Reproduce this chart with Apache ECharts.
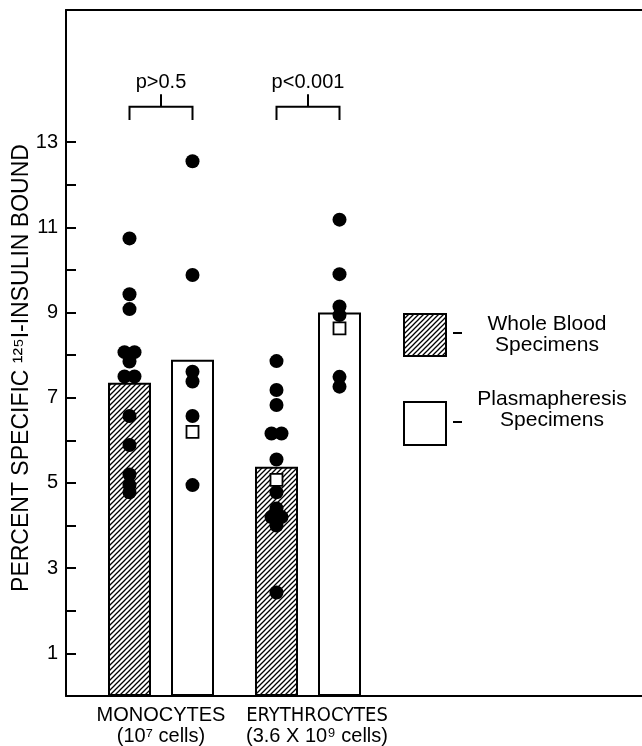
<!DOCTYPE html>
<html>
<head>
<meta charset="utf-8">
<script src="https://cdn.jsdelivr.net/npm/echarts@6/dist/echarts.min.js"></script>
<style>
  html, body { margin: 0; padding: 0; background: #fff; }
  #chart { width: 642px; height: 746px; }
</style>
</head>
<body>
<div id="chart"></div>
<script>
// data
const categories = ['MONOCYTES\n(10⁷ cells)', 'ERYTHROCYTES\n(3.6 X 10⁹ cells)'];
const wholeBloodMeans = [7.35, 5.38];
const plasmaMeans = [7.89, 9.0];
const wholeBloodPoints = [
  [10.74, 9.43, 9.08, 8.07, 8.07, 7.85, 7.5, 7.5, 6.57, 5.89, 5.2, 4.95, 4.78],
  [7.86, 7.18, 6.83, 6.16, 6.16, 5.55, 4.78, 4.4, 4.2, 4.2, 4.0, 2.43]
];
const plasmaPoints = [
  [12.55, 9.88, 7.61, 7.38, 6.57, 4.95],
  [11.18, 9.9, 9.14, 8.94, 7.49, 7.26]
];
const wholeBloodSquares = [null, 5.07];
const plasmaSquares = [6.2, 8.63];
const pValues = ['p>0.5', 'p<0.001'];
const yTicks = [1, 2, 3, 4, 5, 6, 7, 8, 9, 10, 11, 12, 13];
const yLabels = [1, 3, 5, 7, 9, 11, 13];

const FONT = '"Liberation Sans", Arial, sans-serif';
const NARROW = '"Liberation Sans Narrow", "DejaVu Sans Condensed", "Liberation Sans", sans-serif';
const BAR_W = 43;
const BAR_GAP = 20;
const HALF = (BAR_W + BAR_GAP) / 2;
const Y_MAX = 16.1;
const BRACKET_Y = 13.83;

function hatch() {
  const c = document.createElement('canvas');
  c.width = 5; c.height = 5;
  const g = c.getContext('2d');
  g.strokeStyle = '#000';
  g.lineWidth = 1.3;
  g.beginPath();
  g.moveTo(0, 5); g.lineTo(5, 0);
  g.moveTo(-1, 1); g.lineTo(1, -1);
  g.moveTo(4, 6); g.lineTo(6, 4);
  g.stroke();
  return c;
}
const hatchFill = { image: hatch(), repeat: 'repeat' };

// side-by-side placement for equal values
function dotData(groups, side) {
  const out = [];
  groups.forEach((vals, ci) => {
    vals.forEach((v, i) => {
      const same = vals.filter(w => w === v).length;
      const k = vals.slice(0, i).filter(w => w === v).length;
      const jitter = same > 1 ? (k - (same - 1) / 2) * 10 : 0;
      out.push({ value: [ci, v], symbolOffset: [side * HALF + jitter, 0] });
    });
  });
  return out;
}
function squareData(vals, side) {
  return vals.map((v, ci) => v == null ? null : { value: [ci, v], symbolOffset: [side * HALF, 0] })
    .filter(d => d);
}

const chart = echarts.init(document.getElementById('chart'));

const dotStyle = { color: '#000', opacity: 1 };
const squareStyle = { color: '#fff', borderColor: '#000', borderWidth: 1.8, opacity: 1 };

chart.setOption({
  animation: false,
  grid: [
    { left: 66, right: 0, top: 10, bottom: 50, outerBoundsMode: 'none', containLabel: false },
    { left: 87.5, width: 294, top: 10, bottom: 50, outerBoundsMode: 'none', containLabel: false }
  ],
  xAxis: [
    { gridIndex: 0, type: 'value', min: 0, max: 1, position: 'bottom',
      axisLine: { lineStyle: { color: '#000', width: 2 } },
      axisTick: { show: false }, axisLabel: { show: false }, splitLine: { show: false } },
    { gridIndex: 1, type: 'category', data: categories,
      axisLine: { show: false }, axisTick: { show: false },
      axisLabel: {
        interval: 0, color: '#000', fontFamily: FONT, fontSize: 20, lineHeight: 21, margin: 9,
        formatter: (value, index) => {
          const [top, bottom] = value.split('\n');
          return index === 0 ? `{m|${top}}\n{m|${bottom}}` : `{e|${top}}\n{f|${bottom}}`;
        },
        rich: {
          m: { fontFamily: FONT, fontSize: 20, lineHeight: 21, color: '#000' },
          e: { fontFamily: NARROW, fontSize: 20, lineHeight: 21, color: '#000', padding: [0, 0, 0, 18] },
          f: { fontFamily: FONT, fontSize: 20, lineHeight: 21, color: '#000', padding: [0, 0, 0, 18] }
        }
      } },
    { gridIndex: 0, type: 'value', min: 0, max: 1, position: 'top',
      axisLine: { lineStyle: { color: '#000', width: 2 } },
      axisTick: { show: false }, axisLabel: { show: false }, splitLine: { show: false } }
  ],
  yAxis: [
    { gridIndex: 0, type: 'value', min: 0, max: Y_MAX,
      name: 'PERCENT SPECIFIC ¹²⁵I-INSULIN BOUND', nameLocation: 'middle', nameGap: 33,
      nameMoveOverlap: false,
      nameTextStyle: { color: '#000', fontFamily: FONT, fontSize: 23, padding: [0, 30, 0, 0] },
      axisLine: { show: true, lineStyle: { color: '#000', width: 2 } },
      axisTick: { show: true, inside: true, length: 10, customValues: yTicks,
        lineStyle: { color: '#000', width: 2 } },
      axisLabel: { customValues: yLabels, color: '#000', fontFamily: FONT, fontSize: 20, margin: 8 },
      splitLine: { show: false } },
    { gridIndex: 1, type: 'value', min: 0, max: Y_MAX, show: false }
  ],
  graphic: [
    { type: 'rect', left: 403, top: 313, shape: { width: 42, height: 42 },
      style: { fill: hatchFill, stroke: '#000', lineWidth: 2 } },
    { type: 'line', shape: { x1: 453, y1: 333, x2: 462, y2: 333 }, style: { stroke: '#000', lineWidth: 2 } },
    { type: 'text', x: 547, y: 335,
      style: { text: 'Whole Blood\nSpecimens', textAlign: 'center', textVerticalAlign: 'middle',
        fontFamily: FONT, fontSize: 21, lineHeight: 21, fill: '#000' } },
    { type: 'rect', left: 403, top: 401, shape: { width: 42, height: 43 },
      style: { fill: '#fff', stroke: '#000', lineWidth: 2 } },
    { type: 'line', shape: { x1: 453, y1: 422, x2: 462, y2: 422 }, style: { stroke: '#000', lineWidth: 2 } },
    { type: 'text', x: 552, y: 410,
      style: { text: 'Plasmapheresis\nSpecimens', textAlign: 'center', textVerticalAlign: 'middle',
        fontFamily: FONT, fontSize: 21, lineHeight: 21, fill: '#000' } }
  ],
  series: [
    { type: 'bar', name: 'Whole Blood', xAxisIndex: 1, yAxisIndex: 1, data: wholeBloodMeans,
      barWidth: BAR_W, barGap: (BAR_GAP / BAR_W * 100) + '%',
      itemStyle: { color: hatchFill, borderColor: '#000', borderWidth: 2 }, z: 2 },
    { type: 'bar', name: 'Plasmapheresis', xAxisIndex: 1, yAxisIndex: 1, data: plasmaMeans,
      barWidth: BAR_W,
      itemStyle: { color: '#fff', borderColor: '#000', borderWidth: 2 }, z: 2 },
    { type: 'scatter', xAxisIndex: 1, yAxisIndex: 1, symbol: 'circle', symbolSize: 14,
      data: dotData(wholeBloodPoints, -1), itemStyle: dotStyle, z: 3 },
    { type: 'scatter', xAxisIndex: 1, yAxisIndex: 1, symbol: 'circle', symbolSize: 14,
      data: dotData(plasmaPoints, 1), itemStyle: dotStyle, z: 3 },
    { type: 'scatter', xAxisIndex: 1, yAxisIndex: 1, symbol: 'rect', symbolSize: 12,
      data: squareData(wholeBloodSquares, -1).concat(squareData(plasmaSquares, 1)),
      itemStyle: squareStyle, z: 4 },
    { type: 'custom', xAxisIndex: 1, yAxisIndex: 1, z: 5,
      data: pValues.map((p, i) => [i, BRACKET_Y]),
      renderItem(params, api) {
        const c = api.coord([api.value(0), BRACKET_Y]);
        const legY = api.coord([0, BRACKET_Y - 0.31])[1];
        const stemY = api.coord([0, BRACKET_Y + 0.29])[1];
        const x0 = c[0] - HALF, x1 = c[0] + HALF;
        return {
          type: 'group',
          children: [
            { type: 'polyline', shape: { points: [[x0, legY], [x0, c[1]], [x1, c[1]], [x1, legY]] },
              style: { stroke: '#000', lineWidth: 2, fill: null } },
            { type: 'line', shape: { x1: c[0], y1: c[1], x2: c[0], y2: stemY },
              style: { stroke: '#000', lineWidth: 2 } },
            { type: 'text', x: c[0], y: stemY - 12,
              style: { text: pValues[params.dataIndex], textAlign: 'center', textVerticalAlign: 'middle',
                fontFamily: FONT, fontSize: 20, fill: '#000' } }
          ]
        };
      } }
  ]
});
</script>
</body>
</html>
